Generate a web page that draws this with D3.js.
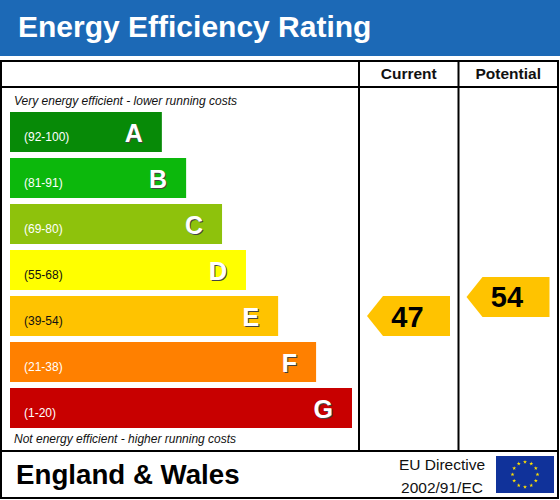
<!DOCTYPE html>
<html>
<head>
<meta charset="utf-8">
<script src="https://cdn.jsdelivr.net/npm/d3@7/dist/d3.min.js"></script>
<style>
  html, body { margin: 0; padding: 0; background: #fff; }
  svg { display: block; font-family: "Liberation Sans", Arial, Helvetica, sans-serif; }
</style>
</head>
<body>
<svg id="chart" width="560" height="500"></svg>
<script>
// ---- data ----
const title = "Energy Efficiency Rating";
const bands = ["A", "B", "C", "D", "E", "F", "G"];
const bandRanges = ["(92-100)", "(81-91)", "(69-80)", "(55-68)", "(39-54)", "(21-38)", "(1-20)"];
const bandMin = [92, 81, 69, 55, 39, 21, 1];
const bandLength = [44.4, 51.5, 62, 69, 78.4, 89.5, 100];   // relative bar length (G = 100)
const bandColors = ["#078a07", "#0cb80c", "#8ec20c", "#ffff00", "#ffc300", "#ff8000", "#c80000"];
const bandTextColors = ["#fff", "#fff", "#fff", "#111", "#111", "#fff", "#fff"];
const columns = ["Current", "Potential"];
const ratings = [47, 54];
const topNote = "Very energy efficient - lower running costs";
const bottomNote = "Not energy efficient - higher running costs";
const region = "England & Wales";
const directive = ["EU Directive", "2002/91/EC"];

// ---- layout ----
const W = 560, H = 500;
const svg = d3.select("#chart");

const frame = { left: 1, right: 558, top: 61, headerBottom: 87, footerTop: 451, bottom: 498 };
const colX = d3.scaleBand().domain(columns).range([359, 558]);

// title bar
svg.append("rect").attr("x", 0).attr("y", 0).attr("width", W).attr("height", 56).attr("fill", "#1c69b6");
svg.append("text").attr("x", 18).attr("y", 37).attr("fill", "#fff")
  .attr("font-size", 30).attr("font-weight", "bold").text(title);

// scales for bars
const y = d3.scaleBand().domain(bands).range([112, 428]).paddingInner(6 / 46).paddingOuter(0);
const x = d3.scaleLinear().domain([0, 100]).range([10, 352]);
const bw = y.bandwidth();

const bars = svg.append("g");
bands.forEach((b, i) => {
  const g = bars.append("g");
  g.append("rect").attr("x", x(0)).attr("y", y(b)).attr("width", x(bandLength[i]) - x(0))
    .attr("height", bw).attr("fill", bandColors[i]);
  g.append("text").attr("x", x(0) + 14).attr("y", y(b) + 28.5)
    .attr("font-size", 12).attr("fill", bandTextColors[i]).text(bandRanges[i]);
  // letter with dark shadow
  g.append("text").attr("x", x(bandLength[i]) - 18).attr("y", y(b) + 31)
    .attr("text-anchor", "end").attr("font-size", 25).attr("font-weight", "bold")
    .attr("fill", "#444").text(b);
  g.append("text").attr("x", x(bandLength[i]) - 19).attr("y", y(b) + 30)
    .attr("text-anchor", "end").attr("font-size", 25).attr("font-weight", "bold")
    .attr("fill", "#fff").text(b);
});

// notes
svg.append("text").attr("x", 14).attr("y", 105).attr("font-size", 12).attr("font-style", "italic")
  .attr("fill", "#111").text(topNote);
svg.append("text").attr("x", 14).attr("y", 443).attr("font-size", 12).attr("font-style", "italic")
  .attr("fill", "#111").text(bottomNote);

// rating arrows
const yScore = d3.scaleLinear().domain([100, 1]).range([y("A") + bw, y("G") + bw - 7]);
function bandOf(v) { return bandMin.findIndex(m => v >= m); }
columns.forEach((c, i) => {
  const v = ratings[i];
  const x0 = colX(c) + 8, x1 = colX(c) + colX.bandwidth() - 8.5;
  const top = yScore(v), h = 40, tip = 16;
  const path = d3.path();
  path.moveTo(x0, top + h / 2);
  path.lineTo(x0 + tip, top);
  path.lineTo(x1, top);
  path.lineTo(x1, top + h);
  path.lineTo(x0 + tip, top + h);
  path.closePath();
  svg.append("path").attr("d", path.toString()).attr("fill", bandColors[bandOf(v)]);
  svg.append("text").attr("x", (x0 + x1) / 2 - 1).attr("y", top + 30.5)
    .attr("text-anchor", "middle").attr("font-size", 29).attr("font-weight", "bold")
    .attr("fill", "#000").text(v);
});

// frame & grid lines
const lines = svg.append("g").attr("stroke", "#000").attr("stroke-width", 2).attr("fill", "none");
lines.append("rect").attr("x", frame.left).attr("y", frame.top)
  .attr("width", frame.right - frame.left).attr("height", frame.bottom - frame.top);
lines.append("line").attr("x1", frame.left).attr("x2", frame.right)
  .attr("y1", frame.headerBottom).attr("y2", frame.headerBottom);
lines.append("line").attr("x1", frame.left).attr("x2", frame.right)
  .attr("y1", frame.footerTop).attr("y2", frame.footerTop);
columns.forEach(c => {
  lines.append("line").attr("x1", colX(c)).attr("x2", colX(c))
    .attr("y1", frame.top).attr("y2", frame.footerTop);
});

// column headers
columns.forEach(c => {
  svg.append("text").attr("x", colX(c) + colX.bandwidth() / 2).attr("y", 79)
    .attr("text-anchor", "middle").attr("font-size", 15.5).attr("font-weight", "bold")
    .attr("fill", "#111").text(c);
});

// footer
svg.append("text").attr("x", 16).attr("y", 484).attr("font-size", 27.7).attr("font-weight", "bold")
  .attr("fill", "#000").text(region);
directive.forEach((t, i) => {
  svg.append("text").attr("x", 442).attr("y", 470 + i * 22.5).attr("text-anchor", "middle")
    .attr("font-size", 15.5).attr("fill", "#111").text(t);
});
// EU flag
const flag = { x: 496, y: 456, w: 58, h: 37 };
svg.append("rect").attr("x", flag.x).attr("y", flag.y).attr("width", flag.w).attr("height", flag.h)
  .attr("fill", "#10329a");
const cx = flag.x + flag.w / 2, cy = flag.y + flag.h / 2;
const star = d3.symbol().type(d3.symbolStar).size(5);
d3.range(12).forEach(k => {
  const a = k * Math.PI / 6;
  svg.append("path").attr("d", star())
    .attr("transform", `translate(${cx + 12.5 * Math.sin(a)},${cy - 12.5 * Math.cos(a)})`)
    .attr("fill", "#ffe000");
});
</script>
</body>
</html>
